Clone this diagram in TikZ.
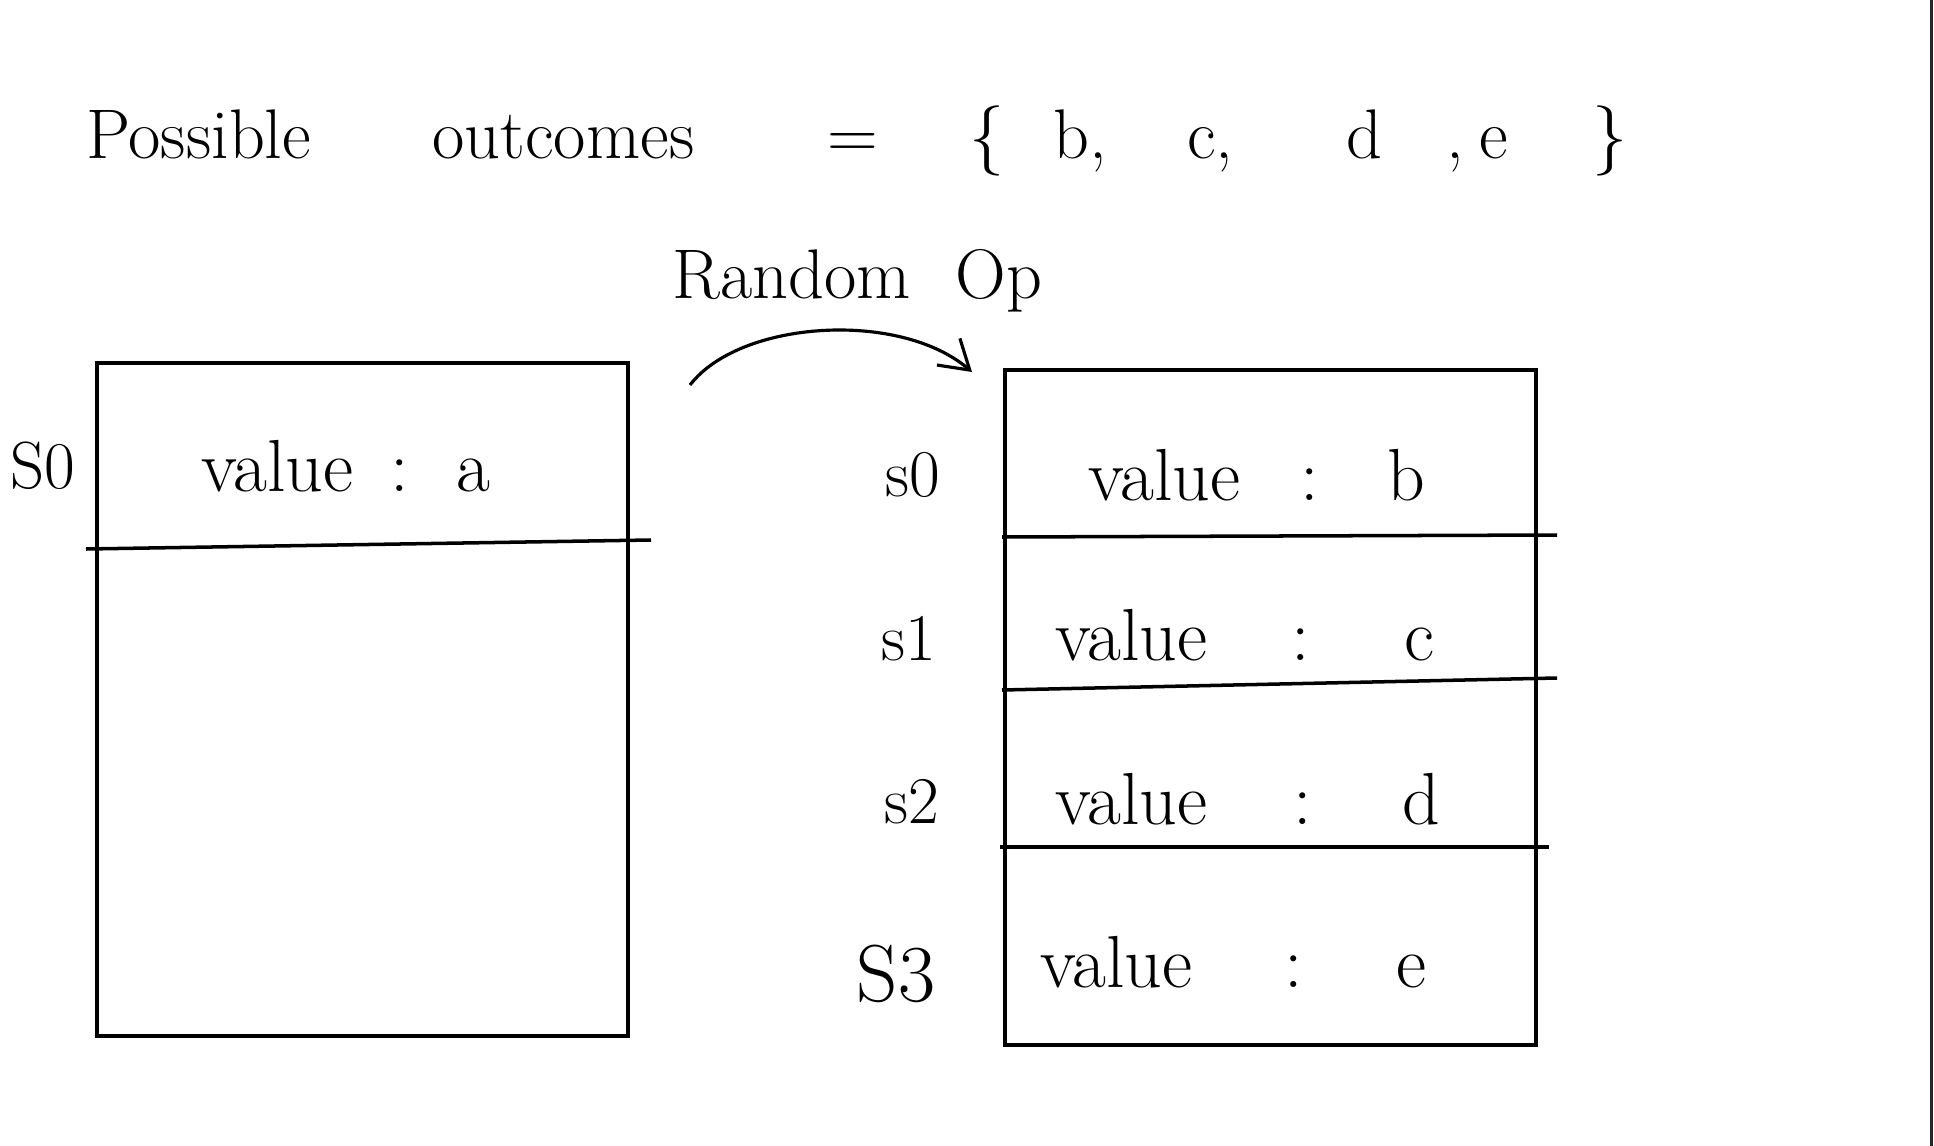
\documentclass[tikz,border=0pt]{standalone}
\usepackage{fontspec}
\usetikzlibrary{arrows.meta,positioning}

\begin{document}
\begin{tikzpicture}[x=0.02cm, y=-0.02cm,
      slot/.style={draw, line width=2.2pt, minimum width=10.62cm,
        minimum height=13.5cm, inner sep=0pt},
      lbl/.style={font=\fontsize{42}{46}\selectfont, inner sep=0pt},
      tag/.style={font=\fontsize{38}{42}\selectfont, inner sep=0pt},
      big/.style={font=\fontsize{40}{44}\selectfont, inner sep=0pt},
      divider/.style={line width=2pt},
      arrowstyle/.style={-{Straight Barb[length=16pt,width=20pt]}, line width=1.8pt}
    ]
    \useasboundingbox (0,0) rectangle (1934,1146);
    \draw[line width=0.06cm, black!85] (1931,0) -- (1931,1146);

    % Heading
    \node[big, anchor=base west] (outcomes) at (86,158)
      {Possible\hspace{2.43cm}outcomes\hspace{2.67cm}=\hspace{1.83cm}\{\hspace{0.98cm}b,\hspace{1.6cm}c,\hspace{2.25cm}d\hspace{1.3cm},\hspace{0.3cm}e\hspace{1.7cm}\}};
    \node[big, anchor=base west] (randop) at (672,298) {Random\hspace{0.9cm}Op};

    % Before: one state
    \node[slot, minimum height=13.46cm] (oldstate) at (362.5,699.5) {};
    \node[tag] (olds0) at (43,466) {S0};
    \node[lbl, anchor=base west] (olda) at (201,491) {value\hspace{0.74cm}:\hspace{0.96cm}a};
    \draw[divider] (86,549) -- (651,540);

    % After: four states
    \node[slot] (newstate) at (1270.5,707.5) {};
    \node[tag] (news0) at (913,475) {s0};
    \node[tag] (news1) at (909,639) {s1};
    \node[tag] (news2) at (912,802) {s2};
    \node[tag, font=\fontsize{46}{50}\selectfont] (news3) at (896,974) {S3};
    \node[lbl, anchor=base west] (newb) at (1088,500) {value\hspace{1.2cm}:\hspace{1.37cm}b};
    \node[lbl, anchor=base west] (newc) at (1055,660) {value\hspace{1.68cm}:\hspace{1.9cm}c};
    \node[lbl, anchor=base west] (newd) at (1055,824) {value\hspace{1.73cm}:\hspace{1.8cm}d};
    \node[lbl, anchor=base west] (newe) at (1040,987) {value\hspace{1.85cm}:\hspace{1.87cm}e};
    \draw[divider] (1002,537) -- (1557,535);
    \draw[divider] (1002,690) -- (1557,678);
    \draw[divider] (1000,847) -- (1549,847);

    % Arrow
    \coordinate (opfrom) at (690,385);
    \coordinate (opto) at (972,372);
    \draw[arrowstyle] (opfrom) .. controls (740,320) and (900,310) .. (opto);
\end{tikzpicture}
\end{document}
